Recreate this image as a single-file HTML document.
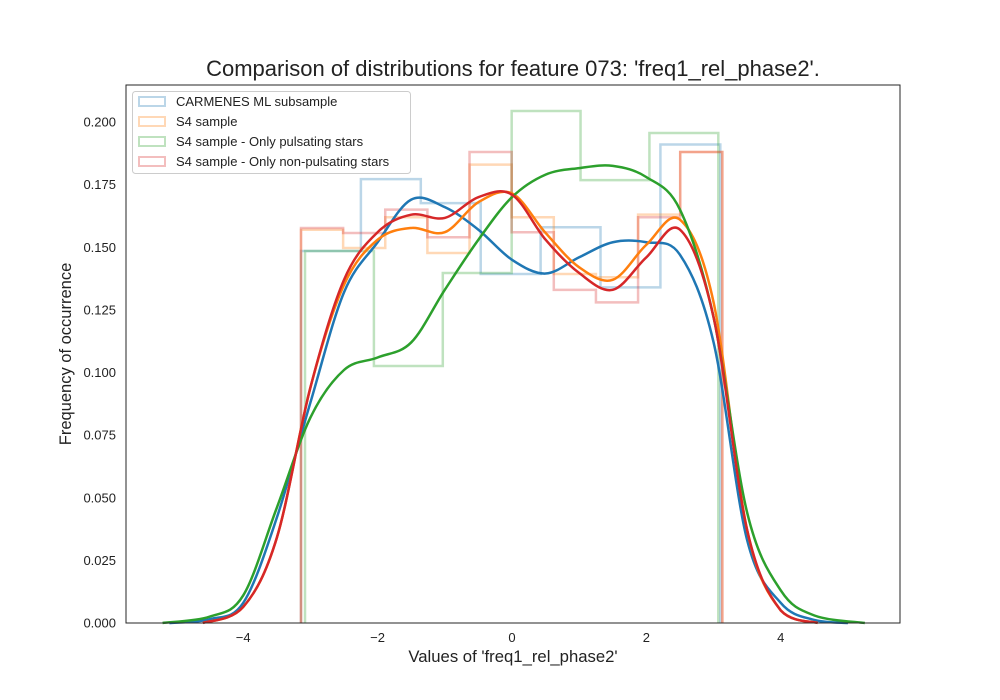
<!DOCTYPE html>
<html><head><meta charset="utf-8"><style>
html,body{margin:0;padding:0;background:#fff}
svg{display:block;font-family:"Liberation Sans","DejaVu Sans",sans-serif}
</style></head><body>
<svg id="chart" width="1000" height="700" viewBox="0 0 1000 700">
<text x="513" y="76" text-anchor="middle" font-size="22" fill="#222">Comparison of distributions for feature 073: 'freq1_rel_phase2'.</text>
<g id="plot"></g>
<rect x="126" y="85" width="774" height="538" fill="none" stroke="#262626" stroke-width="1"/>
<g id="xticks"></g>
<g id="yticks"></g>
<text x="513" y="662" text-anchor="middle" font-size="16.7" fill="#222">Values of 'freq1_rel_phase2'</text>
<text transform="translate(71,354) rotate(-90)" text-anchor="middle" font-size="16.5" fill="#222">Frequency of occurrence</text>
<g>
<rect x="132.5" y="91.5" width="278" height="82" rx="3" fill="#fff" fill-opacity="0.8" stroke="#ccc"/>
<rect x="139" y="97" width="26" height="9" fill="none" stroke="#1f77b4" stroke-opacity="0.3" stroke-width="2"/>
<text x="176" y="106" font-size="13" fill="#222">CARMENES ML subsample</text>
<rect x="139" y="117" width="26" height="9" fill="none" stroke="#ff7f0e" stroke-opacity="0.3" stroke-width="2"/>
<text x="176" y="126" font-size="13" fill="#222">S4 sample</text>
<rect x="139" y="137" width="26" height="9" fill="none" stroke="#2ca02c" stroke-opacity="0.3" stroke-width="2"/>
<text x="176" y="146" font-size="13" fill="#222">S4 sample - Only pulsating stars</text>
<rect x="139" y="157" width="26" height="9" fill="none" stroke="#d62728" stroke-opacity="0.3" stroke-width="2"/>
<text x="176" y="166" font-size="13" fill="#222">S4 sample - Only non-pulsating stars</text>
</g>
</svg>
<script>
// axis tick labels
const xTicks = [-4, -2, 0, 2, 4];
const yTicks = [0, 0.025, 0.05, 0.075, 0.1, 0.125, 0.15, 0.175, 0.2];
// histogram bins (ranges + heights)
const blueRange = [-3.14, 3.10];
const blueHist = [0.1485, 0.1772, 0.1676, 0.1393, 0.158, 0.134, 0.191];
const orangeRange = [-3.14, 3.13];
const orangeHist = [0.157, 0.1497, 0.162, 0.1477, 0.183, 0.162, 0.1393, 0.138, 0.163, 0.188];
const greenRange = [-3.08, 3.07];
const greenHist = [0.1485, 0.1026, 0.1397, 0.2044, 0.1768, 0.1956];
const redRange = [-3.14, 3.13];
const redHist = [0.1577, 0.1557, 0.165, 0.154, 0.188, 0.156, 0.133, 0.128, 0.162, 0.188];
// KDE curves: x values and densities
const blueKdeX = [-5.1, -4.5, -4, -3.5, -3, -2.5, -2, -1.5, -1, -0.5, 0, 0.5, 1, 1.5, 2, 2.5, 3, 3.5, 4, 4.5, 5.0];
const blueKdeY = [0, 0.0015, 0.008, 0.042, 0.088, 0.132, 0.152, 0.169, 0.166, 0.157, 0.145, 0.1395, 0.146, 0.152, 0.152, 0.147, 0.112, 0.033, 0.008, 0.0012, 0];
const orangeKdeX = [-4.6, -4, -3.5, -3, -2.5, -2, -1.5, -1, -0.5, 0, 0.5, 1, 1.5, 2, 2.5, 3, 3.5, 4, 4.55];
const orangeKdeY = [0, 0.0064, 0.034, 0.094, 0.135, 0.153, 0.1577, 0.156, 0.168, 0.1715, 0.1557, 0.142, 0.137, 0.151, 0.161, 0.128, 0.037, 0.005, 0];
const greenKdeX = [-5.2, -4.5, -4, -3.5, -3, -2.5, -2, -1.5, -1, -0.5, 0, 0.5, 1, 1.5, 2, 2.5, 3, 3.5, 4, 4.5, 5.25];
const greenKdeY = [0, 0.0025, 0.011, 0.046, 0.082, 0.101, 0.106, 0.112, 0.133, 0.153, 0.170, 0.179, 0.1816, 0.1825, 0.178, 0.165, 0.122, 0.044, 0.013, 0.003, 0];
const redKdeX = [-4.6, -4, -3.5, -3, -2.5, -2, -1.5, -1, -0.5, 0, 0.5, 1, 1.5, 2, 2.5, 3, 3.5, 4, 4.55];
const redKdeY = [0, 0.0064, 0.034, 0.094, 0.137, 0.156, 0.163, 0.1617, 0.170, 0.171, 0.153, 0.1397, 0.133, 0.146, 0.157, 0.122, 0.037, 0.005, 0];

const NS = 'http://www.w3.org/2000/svg';
const X0 = 512, XS = 67.2, Y0 = 623, YS = 2505;
function sx(v){ return X0 + v * XS; }
function sy(v){ return Y0 - v * YS; }
const plot = document.getElementById('plot');
const xg = document.getElementById('xticks');
const yg = document.getElementById('yticks');

xTicks.forEach(t => {
  const tx = document.createElementNS(NS, 'text');
  
  
  tx.setAttribute('x', sx(t)); tx.setAttribute('y', 642);
  tx.setAttribute('text-anchor', 'middle'); tx.setAttribute('font-size', '13'); tx.setAttribute('fill', '#222');
  tx.textContent = t < 0 ? '\u2212' + Math.abs(t) : String(t);
  xg.appendChild(tx);
});
yTicks.forEach(t => {
  const tx = document.createElementNS(NS, 'text');
  
  
  tx.setAttribute('x', 116); tx.setAttribute('y', sy(t) + 4.5);
  tx.setAttribute('text-anchor', 'end'); tx.setAttribute('font-size', '13'); tx.setAttribute('fill', '#222');
  tx.textContent = t.toFixed(3);
  yg.appendChild(tx);
});

function hist(range, vals, color, name){
  const n = vals.length, w = (range[1] - range[0]) / n;
  let d = 'M' + sx(range[0]) + ',' + sy(0);
  vals.forEach((v, i) => {
    d += ' L' + sx(range[0] + i * w) + ',' + sy(v) + ' L' + sx(range[0] + (i + 1) * w) + ',' + sy(v);
  });
  d += ' L' + sx(range[1]) + ',' + sy(0);
  const p = document.createElementNS(NS, 'path');
  
  
  p.setAttribute('d', d); p.setAttribute('fill', 'none'); p.setAttribute('stroke', color);
  p.setAttribute('stroke-opacity', '0.3'); p.setAttribute('stroke-width', '2.5');
  plot.appendChild(p);
}
function kde(xs, ys, color, name){
  const pts = xs.map((x, i) => [sx(x), sy(ys[i])]);
  let d = 'M' + pts[0][0] + ',' + pts[0][1];
  for (let i = 0; i < pts.length - 1; i++) {
    const p0 = pts[Math.max(0, i - 1)], p1 = pts[i], p2 = pts[i + 1], p3 = pts[Math.min(pts.length - 1, i + 2)];
    const c1x = p1[0] + (p2[0] - p0[0]) / 6, c1y = p1[1] + (p2[1] - p0[1]) / 6;
    const c2x = p2[0] - (p3[0] - p1[0]) / 6, c2y = p2[1] - (p3[1] - p1[1]) / 6;
    d += ' C' + c1x + ',' + Math.min(c1y, Y0) + ' ' + c2x + ',' + Math.min(c2y, Y0) + ' ' + p2[0] + ',' + p2[1];
  }
  const p = document.createElementNS(NS, 'path');
  
  
  p.setAttribute('d', d); p.setAttribute('fill', 'none'); p.setAttribute('stroke', color);
  p.setAttribute('stroke-width', '2.5'); p.setAttribute('stroke-linejoin', 'round');
  plot.appendChild(p);
}
hist(blueRange, blueHist, '#1f77b4', 'hist-carmenes');
hist(orangeRange, orangeHist, '#ff7f0e', 'hist-s4');
hist(greenRange, greenHist, '#2ca02c', 'hist-pulsating');
hist(redRange, redHist, '#d62728', 'hist-non-pulsating');
kde(blueKdeX, blueKdeY, '#1f77b4', 'kde-carmenes');
kde(orangeKdeX, orangeKdeY, '#ff7f0e', 'kde-s4');
kde(greenKdeX, greenKdeY, '#2ca02c', 'kde-pulsating');
kde(redKdeX, redKdeY, '#d62728', 'kde-non-pulsating');
</script>
</body></html>
